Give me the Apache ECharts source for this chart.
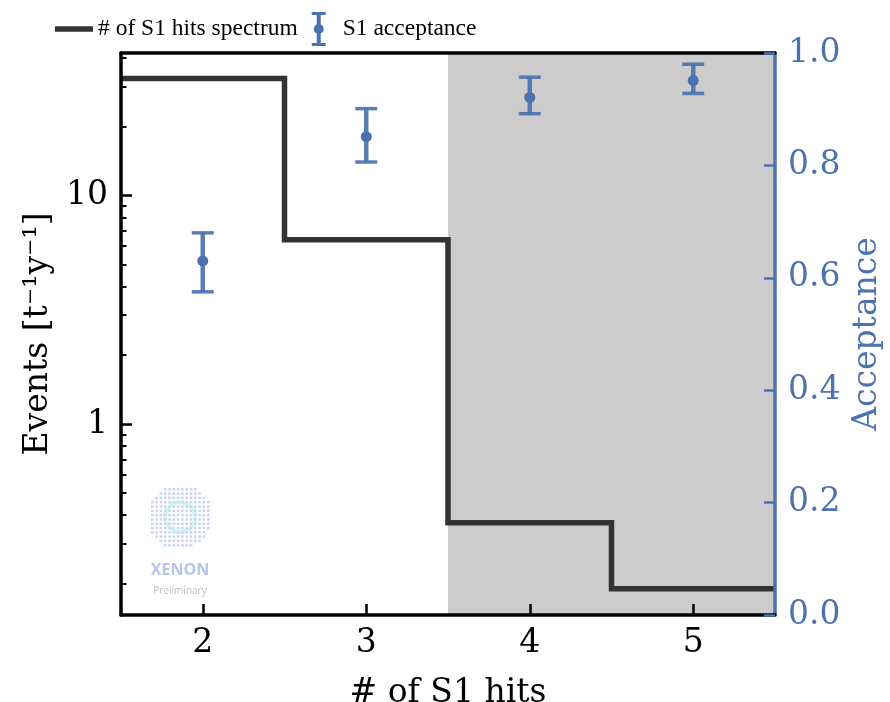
<!DOCTYPE html>
<html>
<head>
<meta charset="utf-8">
<script src="https://cdn.jsdelivr.net/npm/echarts@6/dist/echarts.min.js"></script>
<style>
  html, body { margin: 0; padding: 0; background: #ffffff; }
  #chart { width: 890px; height: 702px; }
</style>
</head>
<body>
<div id="chart"></div>
<script>
// S1 hit multiplicity bins (bin centres)
const hitBins = [2, 3, 4, 5];
// Expected event rate per bin [t^-1 y^-1]
const spectrumRate = [32.5, 6.4, 0.37, 0.19];
// S1 acceptance per bin, with lower / upper bounds of the error bar
const acceptance = [0.630, 0.851, 0.921, 0.951];
const acceptanceLow = [0.575, 0.806, 0.892, 0.928];
const acceptanceHigh = [0.680, 0.901, 0.957, 0.980];
// Shaded hit range
const shadedRange = [3.5, 5.5];
// Tick values
const xTicks = [2, 3, 4, 5];
const eventMajorTicks = [1, 10];
const eventMinorTicks = [0.2, 0.3, 0.4, 0.5, 0.6, 0.7, 0.8, 0.9, 2, 3, 4, 5, 6, 7, 8, 9, 20, 30, 40];

const X_MIN = 1.5, X_MAX = 5.5;
const EV_MIN = 0.146, EV_MAX = 42;

const BLUE = '#4c72b0';
const DARK = '#333333';
const SERIF = 'DejaVu Serif';
const FS = 33;

// Histogram outline: one point per left bin edge, plus the final right edge
const stepPoints = hitBins.map((b, i) => [b - 0.5, spectrumRate[i]]);
stepPoints.push([hitBins[hitBins.length - 1] + 0.5, spectrumRate[spectrumRate.length - 1]]);

const errorData = hitBins.map((b, i) => [b, acceptance[i], acceptanceLow[i], acceptanceHigh[i]]);

const chart = echarts.init(document.getElementById('chart'), null, { renderer: 'canvas' });

// Faint collaboration logo in the lower-left corner
function logoGraphic() {
  const children = [];
  const R = 32, step = 4.3;
  for (let gx = -R; gx <= R; gx += step) {
    for (let gy = -R; gy <= R; gy += step) {
      if (gx * gx + gy * gy <= R * R) {
        children.push({
          type: 'rect',
          shape: { x: gx - 1.3, y: gy - 1.3, width: 2.6, height: 2.6 },
          style: { fill: 'rgba(130,155,215,0.42)' }
        });
      }
    }
  }
  children.push({
    type: 'circle', shape: { cx: 0, cy: 0, r: 15 },
    style: { fill: 'none', stroke: 'rgba(175,228,245,0.45)', lineWidth: 4 }
  });
  children.push({ type: 'circle', shape: { cx: 0, cy: 0, r: 2 }, style: { fill: '#ffffff' } });
  children.push({
    type: 'text', x: 0, y: 53,
    style: { text: 'XENON', fill: '#b6c4ea', font: 'bold 16px "Open Sans"', align: 'center', verticalAlign: 'middle' }
  });
  children.push({
    type: 'text', x: 0, y: 74,
    style: { text: 'Preliminary', fill: '#c0c0c0', font: '10px "Open Sans"', align: 'center', verticalAlign: 'middle' }
  });
  return { type: 'group', x: 180, y: 517, z: 5, children };
}

const option = {
  backgroundColor: '#ffffff',
  animation: false,
  grid: { left: 121, right: 115, top: 53, bottom: 87, containLabel: false, outerBoundsMode: 'none' },
  legend: {
    data: [
      { name: '# of S1 hits spectrum', icon: 'path://M0,0H38V5.5H0Z' },
      { name: 'S1 acceptance', icon: 'path://M0,0H14V3H9V31H14V34H0V31H5V3H0Z M2,17A5,5 0 1 1 12,17A5,5 0 1 1 2,17Z' }
    ],
    left: 50, top: 7,
    itemWidth: 38, itemHeight: 34, itemGap: 14,
    textStyle: { fontFamily: 'Liberation Serif', fontSize: 23.5, color: '#000' }
  },
  xAxis: [
    {
      type: 'value', min: X_MIN, max: X_MAX, position: 'bottom', z: 10,
      name: '# of S1 hits', nameLocation: 'middle', nameGap: 62,
      nameTextStyle: { fontFamily: SERIF, fontSize: FS, color: '#000' },
      axisLine: { onZero: false, lineStyle: { color: '#000', width: 3.5 } },
      axisTick: { inside: true, length: 11, customValues: xTicks, lineStyle: { color: '#000', width: 2.5 } },
      axisLabel: { customValues: xTicks, fontFamily: SERIF, fontSize: FS, color: '#000', margin: 12 },
      splitLine: { show: false }
    },
    {
      type: 'value', min: X_MIN, max: X_MAX, position: 'top', z: 10,
      axisLine: { onZero: false, lineStyle: { color: '#000', width: 3.5 } },
      axisTick: { show: false }, axisLabel: { show: false }, splitLine: { show: false }
    }
  ],
  yAxis: [
    {
      type: 'log', logBase: 10, min: EV_MIN, max: EV_MAX, position: 'left', z: 10,
      name: 'Events [t⁻¹y⁻¹]', nameLocation: 'middle', nameGap: 66, nameRotate: 90,
      nameTextStyle: { fontFamily: SERIF, fontSize: FS, color: '#000' },
      axisLine: { onZero: false, lineStyle: { color: '#000', width: 3.5 } },
      axisTick: { inside: true, length: 11, customValues: eventMajorTicks, lineStyle: { color: '#000', width: 2.5 } },
      axisLabel: {
        customValues: eventMajorTicks, fontFamily: SERIF, fontSize: FS, color: '#000', margin: 13,
        formatter: v => String(Math.round(v))
      },
      splitLine: { show: false }
    },
    {
      type: 'log', logBase: 10, min: EV_MIN, max: EV_MAX, position: 'left', z: 10,
      axisLine: { show: false },
      axisTick: { inside: true, length: 5.5, customValues: eventMinorTicks, lineStyle: { color: '#000', width: 2 } },
      axisLabel: { show: false },
      splitLine: { show: false }
    },
    {
      type: 'value', min: 0, max: 1, interval: 0.2, position: 'right', z: 10,
      name: 'Acceptance', nameLocation: 'middle', nameGap: 65, nameRotate: 90,
      nameTextStyle: { fontFamily: SERIF, fontSize: FS, color: BLUE },
      axisLine: { onZero: false, lineStyle: { color: BLUE, width: 3.5 } },
      axisTick: { inside: true, length: 11, lineStyle: { color: BLUE, width: 2.5 } },
      axisLabel: { fontFamily: SERIF, fontSize: FS, color: BLUE, margin: 13, formatter: v => v.toFixed(1) },
      splitLine: { show: false }
    }
  ],
  series: [
    {
      // shaded region only
      name: 'shaded',
      type: 'line', xAxisIndex: 0, yAxisIndex: 2, data: [], z: 1,
      markArea: {
        silent: true,
        itemStyle: { color: '#cccccc' },
        data: [[{ xAxis: shadedRange[0] }, { xAxis: shadedRange[1] }]]
      }
    },
    {
      name: '# of S1 hits spectrum',
      type: 'line', xAxisIndex: 0, yAxisIndex: 0,
      step: 'end', symbol: 'none', z: 3,
      data: stepPoints,
      itemStyle: { color: DARK },
      lineStyle: { color: DARK, width: 5.5, join: 'miter', cap: 'butt' }
    },
    {
      name: 'S1 acceptance',
      type: 'custom', xAxisIndex: 0, yAxisIndex: 2, z: 4,
      itemStyle: { color: BLUE },
      encode: { x: 0, y: [1, 2, 3] },
      data: errorData,
      renderItem: function (params, api) {
        const x = api.value(0);
        const p = api.coord([x, api.value(1)]);
        const lo = api.coord([x, api.value(2)]);
        const hi = api.coord([x, api.value(3)]);
        const cap = 11;
        const stroke = { stroke: BLUE, lineWidth: 3.5, opacity: 0.92 };
        return {
          type: 'group',
          children: [
            { type: 'line', shape: { x1: lo[0], y1: lo[1], x2: hi[0], y2: hi[1] }, style: { stroke: BLUE, lineWidth: 4.5, opacity: 0.92 } },
            { type: 'line', shape: { x1: lo[0] - cap, y1: lo[1], x2: lo[0] + cap, y2: lo[1] }, style: stroke },
            { type: 'line', shape: { x1: hi[0] - cap, y1: hi[1], x2: hi[0] + cap, y2: hi[1] }, style: stroke },
            { type: 'circle', shape: { cx: p[0], cy: p[1], r: 5.5 }, style: { fill: BLUE } }
          ]
        };
      }
    }
  ],
  graphic: [logoGraphic()]
};

chart.setOption(option);
</script>
</body>
</html>
